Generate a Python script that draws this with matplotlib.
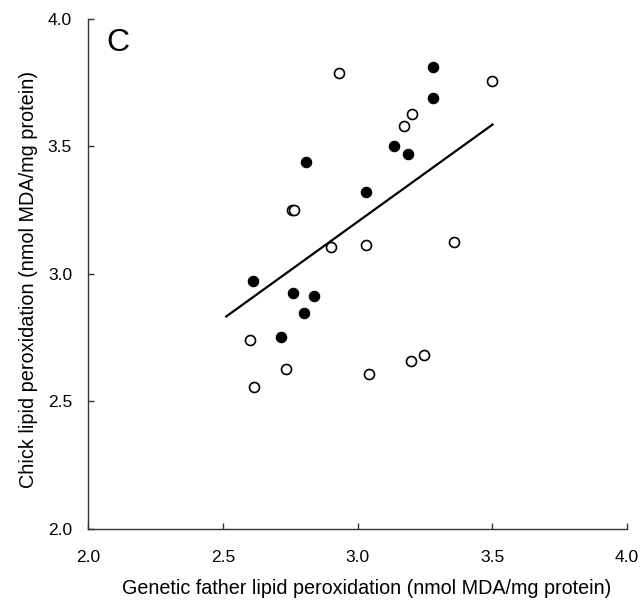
import numpy as np
import matplotlib
matplotlib.use('Agg')
import matplotlib.pyplot as plt

plt.rcParams['font.family'] = ['Liberation Sans', 'DejaVu Sans']

# filled circles
filled_x = [3.280, 3.280, 3.135, 3.188, 2.808, 3.032, 2.611, 2.761, 2.840, 2.803, 2.716]
filled_y = [3.810, 3.689, 3.501, 3.469, 3.438, 3.323, 2.970, 2.923, 2.912, 2.845, 2.752]

# open circles
open_x = [2.933, 3.499, 3.204, 3.171, 2.757, 2.766, 2.902, 3.032, 3.357,
          2.602, 2.735, 2.616, 3.042, 3.198, 3.245]
open_y = [3.788, 3.756, 3.628, 3.580, 3.251, 3.251, 3.104, 3.115, 3.125,
          2.741, 2.627, 2.555, 2.609, 2.658, 2.681]

# regression line
fit_slope = 0.762
fit_intercept = 0.918
fit_range = [2.513, 3.501]

fig = plt.figure(figsize=(6.4, 6.03), dpi=100)
ax = fig.add_axes([0.1375, 0.1232, 0.8422, 0.8453])

xx = np.array(fit_range)
ax.plot(xx, fit_intercept + fit_slope * xx, color='black', lw=1.6, zorder=2)
ax.plot(open_x, open_y, 'o', ms=7.2, mfc='white', mec='black', mew=1.2, zorder=3)
ax.plot(filled_x, filled_y, 'o', ms=7.5, mfc='black', mec='black', mew=0.8, zorder=3)

ax.set_xlim(2.0, 4.0)
ax.set_ylim(2.0, 4.0)
ax.set_xticks([2.0, 2.5, 3.0, 3.5, 4.0])
ax.set_yticks([2.0, 2.5, 3.0, 3.5, 4.0])
ax.set_xticklabels(['2.0', '2.5', '3.0', '3.5', '4.0'])
ax.set_yticklabels(['2.0', '2.5', '3.0', '3.5', '4.0'])

for s in ['top', 'right']:
    ax.spines[s].set_visible(False)
for s in ['left', 'bottom']:
    ax.spines[s].set_color('#333333')
    ax.spines[s].set_linewidth(1.0)
ax.tick_params(direction='in', length=4, width=1.0, color='#333333',
               labelsize=12.5)
ax.tick_params(axis='x', pad=15)
ax.tick_params(axis='y', pad=11.5)

ax.set_xlabel('Genetic father lipid peroxidation (nmol MDA/mg protein)',
              fontsize=14.2)
ax.set_ylabel('Chick lipid peroxidation (nmol MDA/mg protein)',
              fontsize=14.3)
ax.xaxis.set_label_coords(0.516, -0.098)
ax.yaxis.set_label_coords(-0.092, 0.49)

ax.text(2.07, 3.905, 'C', fontsize=23, ha='left', va='center')

fig.savefig('out.png', dpi=100)
